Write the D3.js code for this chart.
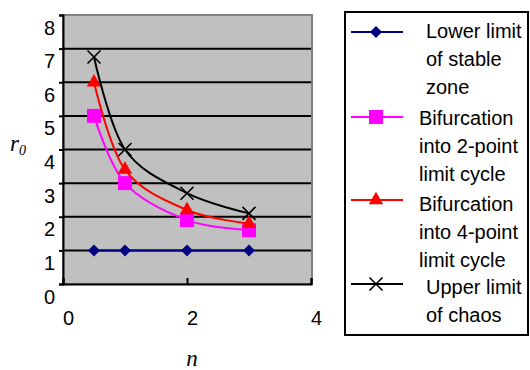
<!DOCTYPE html>
<html>
<head>
<meta charset="utf-8">
<script src="https://cdn.jsdelivr.net/npm/d3@7"></script>
<style>
  html, body { margin: 0; padding: 0; background: #fff; }
  svg { display: block; }
  text { font-family: "Liberation Sans", Arial, sans-serif; }
</style>
</head>
<body>
<script>
// Stability regimes of r0 against n
const nValues = [0.5, 1, 2, 3];
const lowerStable = [1, 1, 1, 1];
const bifurcation2 = [5, 3, 1.9, 1.6];
const bifurcation4 = [6, 3.4, 2.2, 1.8];
const upperChaos = [6.75, 4, 2.7, 2.1];

const legendLabels = [
  ["Lower limit", "of stable", "zone"],
  ["Bifurcation", "into 2-point", "limit cycle"],
  ["Bifurcation", "into 4-point", "limit cycle"],
  ["Upper limit", "of chaos"]
];

const xTickValues = [0, 2, 4];
const yTickValues = [0, 1, 2, 3, 4, 5, 6, 7, 8];
const gridValues = [1, 2, 3, 4, 5, 6, 7];

const W = 530, H = 370;
const plot = { left: 63, right: 312, top: 15, bottom: 284 };

const svg = d3.select("body").append("svg").attr("width", W).attr("height", H);

const x = d3.scaleLinear().domain([0, 4]).range([plot.left, plot.right - 1]);
const y = d3.scaleLinear().domain([0, 8]).range([plot.bottom, plot.top]);

// plot area
svg.append("rect")
  .attr("x", plot.left).attr("y", plot.top)
  .attr("width", plot.right - plot.left).attr("height", plot.bottom - plot.top)
  .attr("fill", "#C0C0C0").attr("stroke", "#808080").attr("stroke-width", 2);

// horizontal gridlines
svg.append("g").selectAll("line").data(gridValues).join("line")
  .attr("x1", plot.left).attr("x2", plot.right - 1)
  .attr("y1", d => y(d)).attr("y2", d => y(d))
  .attr("stroke", "#000").attr("stroke-width", 2);

// y axis
const yAxis = svg.append("g").attr("transform", `translate(${plot.left},0)`)
  .call(d3.axisLeft(y).tickValues(yTickValues).tickSize(4).tickFormat(d3.format("d")));
yAxis.select(".domain").attr("stroke", "#000").attr("stroke-width", 2);
yAxis.selectAll(".tick line").attr("stroke", "#000").attr("stroke-width", 2);
yAxis.selectAll(".tick text")
  .attr("x", -8).attr("dy", "0.95em").attr("font-size", 20).attr("fill", "#000")
  .attr("font-family", "'Liberation Sans', Arial, sans-serif");

// x axis (ticks pointing into the plot)
const xAxis = svg.append("g").attr("transform", `translate(0,${plot.bottom})`)
  .call(d3.axisBottom(x).tickValues(xTickValues).tickSize(-6).tickFormat(d3.format("d")));
xAxis.select(".domain").attr("stroke", "#000").attr("stroke-width", 2);
xAxis.selectAll(".tick line").attr("stroke", "#000").attr("stroke-width", 2);
xAxis.selectAll(".tick text")
  .attr("y", 27).attr("dy", "0.71em").attr("dx", 5).attr("font-size", 20).attr("fill", "#000")
  .attr("font-family", "'Liberation Sans', Arial, sans-serif");

// axis titles
svg.append("text").attr("x", 192).attr("y", 366).attr("text-anchor", "middle")
  .style("font-family", "'Liberation Serif', 'Times New Roman', serif")
  .style("font-style", "italic").attr("font-size", 23).text("n");
const rLabel = svg.append("text").attr("x", 10).attr("y", 151)
  .style("font-family", "'Liberation Serif', 'Times New Roman', serif")
  .style("font-style", "italic").attr("font-size", 23);
rLabel.append("tspan").text("r");
rLabel.append("tspan").attr("font-size", 14).attr("dy", 4).text("0");

// marker shapes
const xMark = { draw(ctx, size) { const r = Math.sqrt(size) / 2; ctx.moveTo(-r, -r); ctx.lineTo(r, r); ctx.moveTo(-r, r); ctx.lineTo(r, -r); } };
const diamond = { draw(ctx, size) { const r = Math.sqrt(size) / 2; ctx.moveTo(0, -r); ctx.lineTo(r, 0); ctx.lineTo(0, r); ctx.lineTo(-r, 0); ctx.closePath(); } };

const series = [
  { values: lowerStable, color: "#000080", symbol: d3.symbol(diamond, 144), fill: true, curve: d3.curveLinear },
  { values: bifurcation2, color: "#FF00FF", symbol: d3.symbol(d3.symbolSquare, 196), fill: true, curve: d3.curveCardinal.tension(0) },
  { values: bifurcation4, color: "#FF0000", symbol: d3.symbol(d3.symbolTriangle, 90), fill: true, curve: d3.curveCardinal.tension(0) },
  { values: upperChaos, color: "#000000", symbol: d3.symbol(xMark, 169), fill: false, curve: d3.curveCardinal.tension(0) }
];

series.forEach(s => {
  const pts = nValues.map((n, i) => [n, s.values[i]]);
  svg.append("path")
    .attr("d", d3.line().x(d => x(d[0])).y(d => y(d[1])).curve(s.curve)(pts))
    .attr("fill", "none").attr("stroke", s.color).attr("stroke-width", 2);
  svg.append("g").selectAll("path").data(pts).join("path")
    .attr("transform", d => `translate(${x(d[0])},${y(d[1])})`)
    .attr("d", s.symbol)
    .attr("fill", s.fill ? s.color : "none")
    .attr("stroke", s.color).attr("stroke-width", s.fill ? 0 : 1.6);
});

// legend
const legend = svg.append("g");
legend.append("rect").attr("x", 345).attr("y", 12).attr("width", 183).attr("height", 323)
  .attr("fill", "#fff").attr("stroke", "#000").attr("stroke-width", 2);

const legendRows = [
  { symbolY: 32, textX: 426, firstBaseline: 38 },
  { symbolY: 117, textX: 419, firstBaseline: 125 },
  { symbolY: 200, textX: 419, firstBaseline: 211 },
  { symbolY: 284, textX: 426, firstBaseline: 294 }
];

series.forEach((s, i) => {
  const row = legendRows[i];
  legend.append("line").attr("x1", 351).attr("x2", 403)
    .attr("y1", row.symbolY).attr("y2", row.symbolY)
    .attr("stroke", s.color).attr("stroke-width", 2);
  legend.append("path").attr("transform", `translate(376,${row.symbolY})`)
    .attr("d", s.symbol)
    .attr("fill", s.fill ? s.color : "none")
    .attr("stroke", s.color).attr("stroke-width", s.fill ? 0 : 1.6);
  legend.append("g").selectAll("text").data(legendLabels[i]).join("text")
    .attr("x", row.textX).attr("y", (d, j) => row.firstBaseline + j * 28)
    .attr("font-size", 20).attr("fill", "#000").text(d => d);
});
</script>
</body>
</html>
